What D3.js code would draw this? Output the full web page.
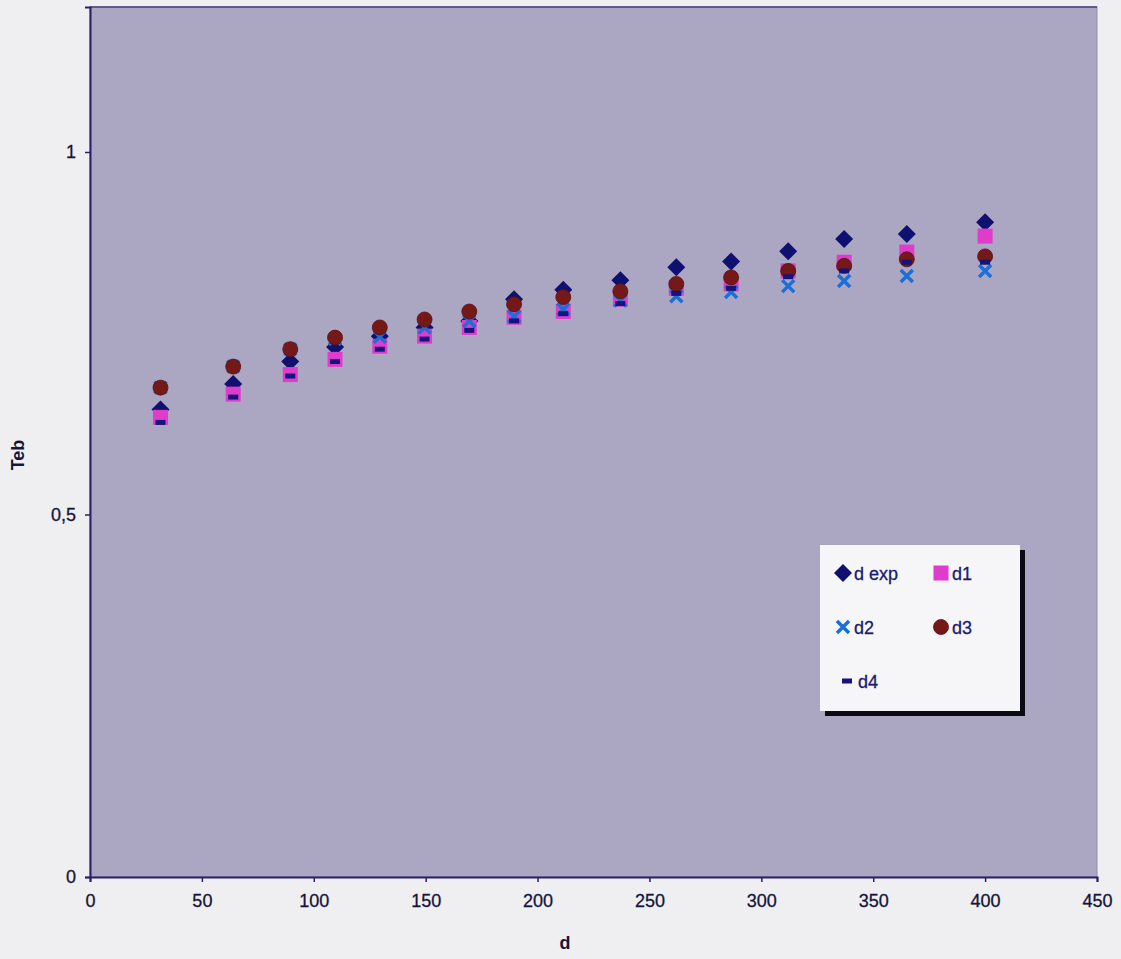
<!DOCTYPE html>
<html><head><meta charset="utf-8">
<script src="https://d3js.org/d3.v7.min.js"></script>
<style>
body{margin:0;background:#efeff1;}
svg{display:block;}
text{font-family:"Liberation Sans",Arial,sans-serif;}
</style></head>
<body><svg id="c" width="1121" height="959"></svg>
<script>
const dValues = [31.5, 64, 89.5, 109.5, 129.5, 149.5, 169.5, 189.5, 211.5, 237, 262, 286.5, 312, 337, 365, 400];
const serDexp = [0.645, 0.680, 0.711, 0.731, 0.746, 0.758, 0.767, 0.797, 0.810, 0.823, 0.841, 0.849, 0.863, 0.880, 0.887, 0.903];
const serD1   = [0.634, 0.666, 0.693, 0.714, 0.732, 0.746, 0.758, 0.772, 0.780, 0.797, 0.812, 0.818, 0.836, 0.848, 0.862, 0.884];
const serD2   = [0.675, 0.704, 0.728, 0.742, 0.745, 0.758, 0.767, 0.773, 0.783, 0.795, 0.801, 0.807, 0.815, 0.822, 0.829, 0.836];
const serD3   = [0.675, 0.704, 0.728, 0.744, 0.758, 0.769, 0.780, 0.790, 0.800, 0.808, 0.818, 0.827, 0.836, 0.843, 0.852, 0.856];
const serD4   = [0.627, 0.662, 0.691, 0.711, 0.728, 0.742, 0.754, 0.767, 0.777, 0.791, 0.805, 0.812, 0.828, 0.836, 0.848, 0.848];
const xTicks = [0, 50, 100, 150, 200, 250, 300, 350, 400, 450];
const yTicks = [0, 0.5, 1];
const seriesNames = ["d exp", "d1", "d2", "d3", "d4"];

const svg = d3.select("#c");
const L = 90, T = 7, R = 1097, B = 877;
const x = d3.scaleLinear().domain([0, 450]).range([L, R]);
const y = d3.scaleLinear().domain([0, 1.2]).range([B, T]);

// plot area
svg.append("rect").attr("x", L).attr("y", T).attr("width", R - L).attr("height", B - T)
  .attr("fill", "#aba7c3").attr("stroke", "#8f8aa8").attr("stroke-width", 1);
svg.append("line").attr("x1", L).attr("x2", R).attr("y1", T).attr("y2", T).attr("stroke", "#4a3f7a").attr("stroke-width", 1.5);

const fmt = d => String(d).replace(".", ",");
const xAxis = svg.append("g").attr("transform", `translate(0,${B})`)
  .call(d3.axisBottom(x).tickValues(xTicks).tickSize(5).tickPadding(12).tickFormat(d => d));
const yAxis = svg.append("g").attr("transform", `translate(${L},0)`)
  .call(d3.axisLeft(y).tickValues(yTicks).tickSize(5).tickPadding(9).tickFormat(fmt));
[xAxis, yAxis].forEach(g => {
  g.select(".domain").attr("stroke", "#2a1f6a").attr("stroke-width", 2);
  g.selectAll(".tick line").attr("stroke", "#2a1f6a").attr("stroke-width", 1.5);
  g.selectAll(".tick text").attr("fill", "#161438").attr("font-size", 18)
    .attr("font-family", "Liberation Sans, Arial, sans-serif").attr("stroke", "#161438").attr("stroke-width", 0.3);
});

svg.append("text").attr("x", 565).attr("y", 949).attr("text-anchor", "middle")
  .attr("font-size", 18).attr("font-weight", "bold").attr("fill", "#161438").text("d");
svg.append("text").attr("transform", "translate(24,455) rotate(-90)").attr("text-anchor", "middle")
  .attr("font-size", 18).attr("font-weight", "bold").attr("fill", "#161438").text("Teb");

// marker drawers
const markers = {
  "d exp": (g, px, py) => g.append("path").attr("d", `M${px},${py-9}L${px+9},${py}L${px},${py+9}L${px-9},${py}Z`).attr("fill", "#101070"),
  "d1": (g, px, py) => g.append("rect").attr("x", px-7.5).attr("y", py-7.5).attr("width", 15).attr("height", 15).attr("fill", "#e03ccc"),
  "d2": (g, px, py) => g.append("path").attr("d", `M${px-6},${py-6}L${px+6},${py+6}M${px+6},${py-6}L${px-6},${py+6}`).attr("stroke", "#1a6fd8").attr("stroke-width", 3.5).attr("fill", "none"),
  "d3": (g, px, py) => g.append("circle").attr("cx", px).attr("cy", py).attr("r", 7.5).attr("fill", "#751818").attr("stroke", "#5a1010").attr("stroke-width", 0.8),
  "d4": (g, px, py) => g.append("rect").attr("x", px-5).attr("y", py-2.5).attr("width", 10).attr("height", 5).attr("fill", "#14147a")
};
const seriesData = [serDexp, serD1, serD2, serD3, serD4];
seriesNames.forEach((name, i) => {
  const g = svg.append("g");
  seriesData[i].forEach((v, j) => markers[name](g, x(dValues[j]), y(v)));
});

// legend
const lg = svg.append("g");
lg.append("rect").attr("x", 825).attr("y", 550).attr("width", 200).attr("height", 166).attr("fill", "#0a0a14");
lg.append("rect").attr("x", 820).attr("y", 545).attr("width", 200).attr("height", 166).attr("fill", "#f6f5f8");
const legPos = [[843, 573], [941, 573], [843, 627], [941, 627], [847, 681]];
seriesNames.forEach((name, i) => {
  const [px, py] = legPos[i];
  markers[name](lg, px, py);
  lg.append("text").attr("x", px + 11).attr("y", py + 7).attr("font-size", 18).attr("fill", "#1a1a70")
    .attr("stroke", "#1a1a70").attr("stroke-width", 0.3).text(name);
});
</script></body></html>
